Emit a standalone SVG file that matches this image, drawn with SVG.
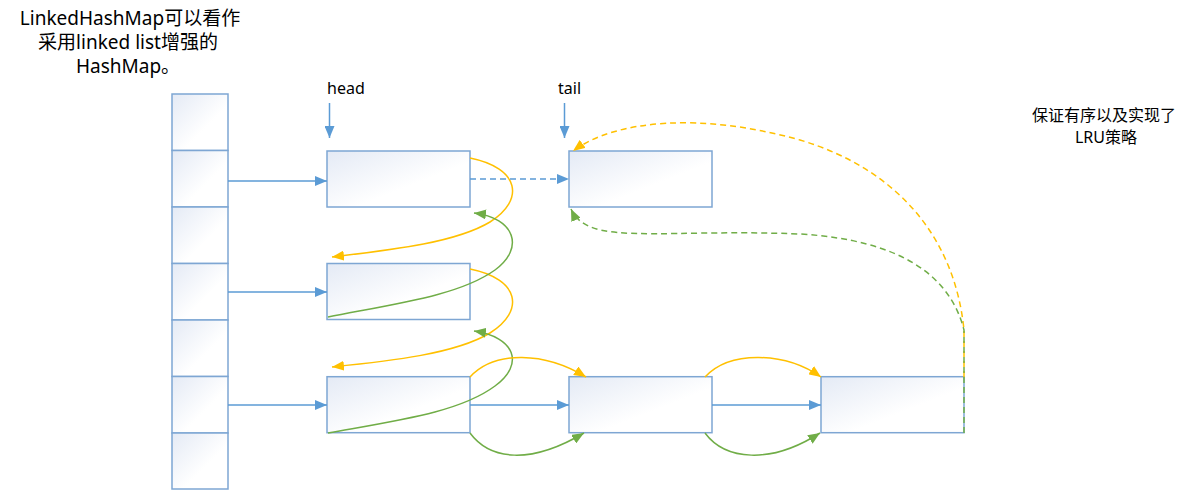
<svg xmlns="http://www.w3.org/2000/svg" width="1191" height="491" viewBox="0 0 1191 491">
<style>
.box{fill:url(#g);stroke:#7ea6d3;stroke-width:1.5}
.b{fill:none;stroke:#5b9bd5;stroke-width:1.5}
.y{fill:none;stroke:#ffc000;stroke-width:1.5}
.gr{fill:none;stroke:#70ad47;stroke-width:1.5}
.d{stroke-dasharray:6 4}
.t{font-family:"Noto Sans","Noto Sans CJK SC",sans-serif;fill:#000}
</style>
<defs>
<linearGradient id="g" x1="0" y1="0" x2="1" y2="1">
<stop offset="0" stop-color="#e4eaf5"/>
<stop offset="0.6" stop-color="#ffffff"/>
</linearGradient>
<marker id="ab" markerUnits="userSpaceOnUse" markerWidth="12" markerHeight="10" refX="12" refY="5" orient="auto"><path d="M0,0L12,5L0,10z" fill="#5b9bd5"/></marker>
<marker id="ay" markerUnits="userSpaceOnUse" markerWidth="12" markerHeight="10" refX="12" refY="5" orient="auto"><path d="M0,0L12,5L0,10z" fill="#ffc000"/></marker>
<marker id="ag" markerUnits="userSpaceOnUse" markerWidth="12" markerHeight="10" refX="12" refY="5" orient="auto"><path d="M0,0L12,5L0,10z" fill="#70ad47"/></marker>
</defs>
<rect width="1191" height="491" fill="#fff"/>
<g id="title">
<text class="t" font-size="19" text-anchor="middle" x="130" y="25">LinkedHashMap可以看作</text>
<text class="t" font-size="19" text-anchor="middle" x="128" y="49">采用linked list增强的</text>
<text class="t" font-size="19" text-anchor="middle" x="128" y="73">HashMap。</text>
</g>
<g id="note">
<text class="t" font-size="16" text-anchor="middle" x="1104" y="121">保证有序以及实现了</text>
<text class="t" font-size="16" text-anchor="middle" x="1106" y="143">LRU策略</text>
</g>
<g id="buckets">
<rect class="box" x="172" y="94" width="56" height="56.5"/>
<rect class="box" x="172" y="150.5" width="56" height="56.5"/>
<rect class="box" x="172" y="207" width="56" height="56.5"/>
<rect class="box" x="172" y="263.5" width="56" height="56.5"/>
<rect class="box" x="172" y="320" width="56" height="56.5"/>
<rect class="box" x="172" y="376.5" width="56" height="56.5"/>
<rect class="box" x="172" y="433" width="56" height="56"/>
</g>
<g id="head-label"><text class="t" font-size="16" x="327" y="94">head</text></g>
<g id="tail-label"><text class="t" font-size="16" x="558" y="94">tail</text></g>
<g id="node1"><rect class="box" x="327" y="151" width="143" height="56"/></g>
<g id="node2"><rect class="box" x="327" y="263.5" width="143" height="56"/></g>
<g id="node3"><rect class="box" x="327" y="376.7" width="143" height="56"/></g>
<g id="node4"><rect class="box" x="569" y="376.7" width="143" height="56"/></g>
<g id="node5"><rect class="box" x="821" y="376.7" width="143" height="56"/></g>
<g id="tailnode"><rect class="box" x="569" y="151" width="143" height="56"/></g>
<g id="connectors">
<path class="b" d="M329.5,103V138" marker-end="url(#ab)"/>
<path class="b" d="M564.5,103V138" marker-end="url(#ab)"/>
<path class="b" d="M228,181H327" marker-end="url(#ab)"/>
<path class="b" d="M228,292H327" marker-end="url(#ab)"/>
<path class="b" d="M228,405H327" marker-end="url(#ab)"/>
<path class="b" d="M470,405H569" marker-end="url(#ab)"/>
<path class="b" d="M712,405H821" marker-end="url(#ab)"/>
<path class="b d" d="M470,179H569" marker-end="url(#ab)"/>
<path class="y" d="M470,158C520,168 525,200 490,222C455,243 390,250 332,257" marker-end="url(#ay)"/>
<path class="y" d="M470,269C520,279 525,311 490,333C455,354 390,361 332,367" marker-end="url(#ay)"/>
<path class="gr" d="M328,317C400,303 460,295 495,270C525,248 515,218 474,213" marker-end="url(#ag)"/>
<path class="gr" d="M328,433C400,420 460,412 495,386C525,364 515,337 474,331" marker-end="url(#ag)"/>
<path class="y" d="M470,377C495,350 545,352 586,377" marker-end="url(#ay)"/>
<path class="y" d="M705,377C730,350 785,352 821,377" marker-end="url(#ay)"/>
<path class="gr" d="M470,433C490,460 530,465 584,433" marker-end="url(#ag)"/>
<path class="gr" d="M705,433C725,460 770,465 820,433" marker-end="url(#ag)"/>
<path class="y d" d="M964,377L964,330C955,240 900,170 800,140C700,112 615,120 573,151" marker-end="url(#ay)"/>
<path class="gr d" d="M964,433L964,330C950,275 900,240 800,234C700,230 640,238 600,230C585,226 576,220 571,209" marker-end="url(#ag)"/>
</g>
</svg>
